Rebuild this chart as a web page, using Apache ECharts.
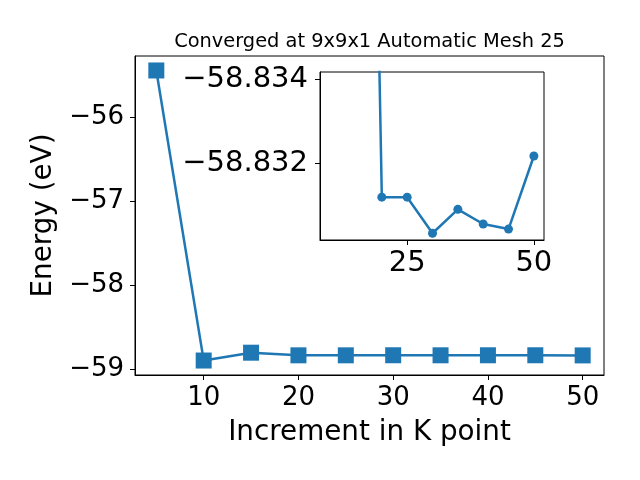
<!DOCTYPE html>
<html><head><meta charset="utf-8">
<script src="https://cdn.jsdelivr.net/npm/echarts@6/dist/echarts.min.js"></script>
<style>html,body{margin:0;padding:0;background:#fff}#c{width:640px;height:480px}</style>
</head><body><div id="c"></div>
<script>
const kPoints = [5, 10, 15, 20, 25, 30, 35, 40, 45, 50];
const energies = [-55.446, -58.893, -58.800, -58.8312, -58.8312, -58.8303, -58.8309, -58.8306, -58.8304, -58.8322];
const insetK = [15, 20, 25, 30, 35, 40, 45, 50];
const insetEnergies = [-58.863, -58.83119, -58.83119, -58.83033, -58.8309, -58.83055, -58.83043, -58.83217];
const mainXTicks = [10, 20, 30, 40, 50];
const mainYTicks = [-59, -58, -57, -56];
const insetXTicks = [25, 50];
const insetYTicks = [-58.834, -58.832];
const titleText = 'Converged at 9x9x1 Automatic Mesh 25';
const xName = 'Increment in K point';
const yName = 'Energy (eV)';

const FONT = 'DejaVu Sans';
const BLUE = '#1f77b4';
const fmt = v => String(v).replace('-', '\u2212');
function axisBase(ticks, size, margin) {
  return {
    type: 'value',
    splitLine: { show: false },
    axisLine: { show: true, onZero: false, lineStyle: { color: '#000', width: 1 } },
    axisTick: { show: true, inside: false, length: 5, customValues: ticks, lineStyle: { color: '#000' } },
    axisLabel: { customValues: ticks, formatter: fmt, color: '#000', fontFamily: FONT, fontSize: size, margin: margin }
  };
}
const chart = echarts.init(document.getElementById('c'), null, { renderer: 'canvas' });
chart.setOption({
  animation: false,
  backgroundColor: '#fff',
  graphic: [{
    type: 'text', x: 369.5, y: 42, z: 100,
    style: { text: titleText, fill: '#000', font: '19.4px "DejaVu Sans"', textAlign: 'center', textVerticalAlign: 'middle' }
  }],
  grid: [
    { left: 135, top: 56, width: 469, height: 319, show: true, borderColor: '#000', borderWidth: 1, backgroundColor: 'transparent', z: 1 },
    { left: 320, top: 72, width: 224, height: 168, show: true, borderColor: '#000', borderWidth: 1, backgroundColor: '#fff', z: 5 }
  ],
  xAxis: [
    Object.assign(axisBase(mainXTicks, 26, 10), { gridIndex: 0, min: 2.75, max: 52.25,
      name: xName, nameLocation: 'middle', nameGap: 44, nameTextStyle: { fontFamily: FONT, fontSize: 27.8, color: '#000' } }),
    Object.assign(axisBase(insetXTicks, 29, 9), { gridIndex: 1, min: 7.8, max: 52, z: 5 })
  ],
  yAxis: [
    Object.assign(axisBase(mainYTicks, 26, 11), { gridIndex: 0, min: -59.065, max: -55.274,
      name: yName, nameLocation: 'middle', nameGap: 75, nameRotate: 90, nameTextStyle: { fontFamily: FONT, fontSize: 27.8, color: '#000' } }),
    Object.assign(axisBase(insetYTicks, 29, 12), { gridIndex: 1, min: -58.83417, max: -58.83017, inverse: true, z: 5 })
  ],
  series: [
    {
      type: 'line', xAxisIndex: 0, yAxisIndex: 0, z: 2,
      data: kPoints.map((k, i) => [k, energies[i]]),
      symbol: 'rect', symbolSize: 16, showAllSymbol: true,
      lineStyle: { color: BLUE, width: 2.5 }, itemStyle: { color: BLUE }
    },
    {
      type: 'line', xAxisIndex: 1, yAxisIndex: 1, z: 6, clip: true,
      data: insetK.map((k, i) => [k, insetEnergies[i]]),
      symbol: 'circle', symbolSize: 9, showAllSymbol: true,
      lineStyle: { color: BLUE, width: 2.5 }, itemStyle: { color: BLUE }
    }
  ]
});
</script>
</body></html>
